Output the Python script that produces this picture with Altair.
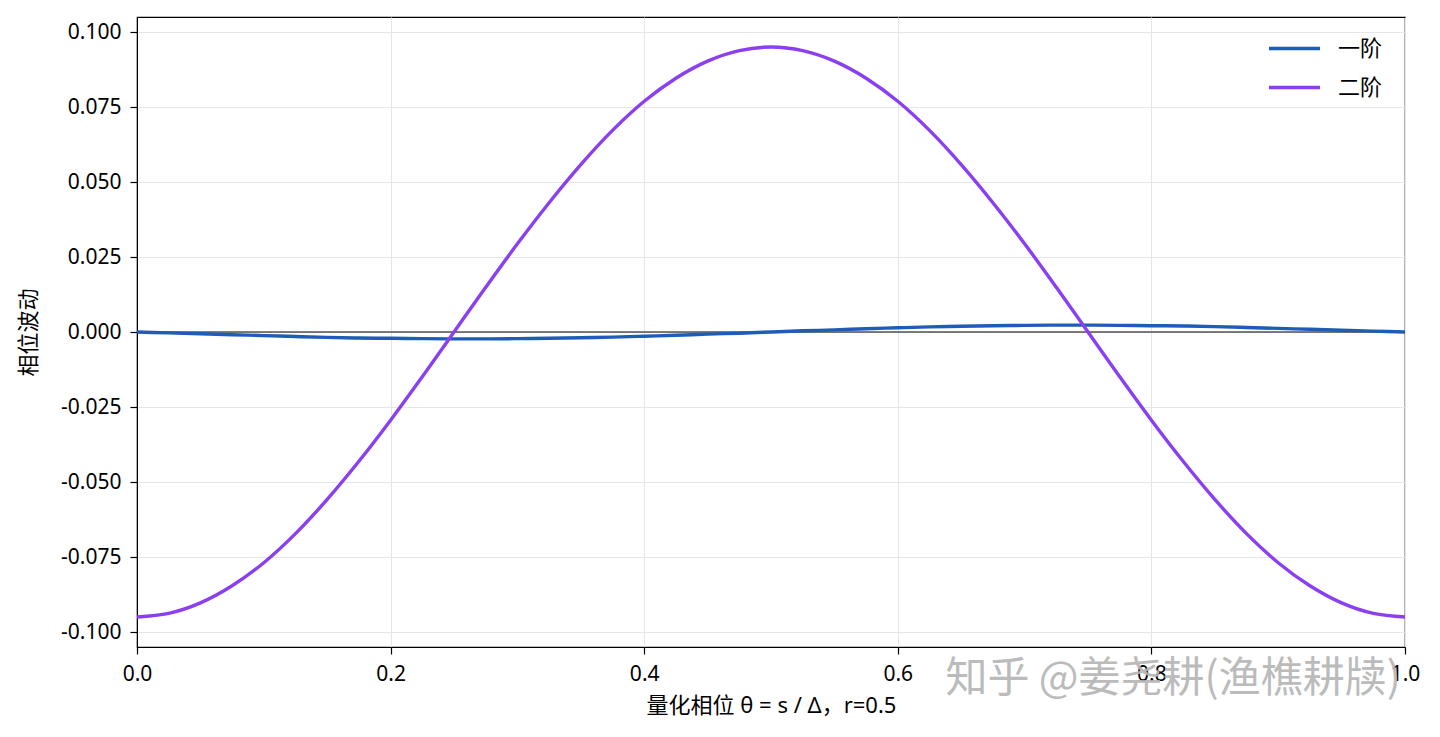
import altair as alt
import pandas as pd

theta = [0.000, 0.025, 0.050, 0.075, 0.100, 0.125, 0.150, 0.175, 0.200, 0.225,
         0.250, 0.275, 0.300, 0.325, 0.350, 0.375, 0.400, 0.425, 0.450, 0.475,
         0.500, 0.525, 0.550, 0.575, 0.600, 0.625, 0.650, 0.675, 0.700, 0.725,
         0.750, 0.775, 0.800, 0.825, 0.850, 0.875, 0.900, 0.925, 0.950, 0.975,
         1.000]

first_order = [0.0000, -0.0003, -0.0006, -0.0009, -0.0012, -0.0015, -0.0018, -0.0020, -0.0021, -0.0022,
               -0.0023, -0.0023, -0.0022, -0.0021, -0.0019, -0.0017, -0.0014, -0.0011, -0.0007, -0.0004,
               0.0000, 0.0004, 0.0007, 0.0011, 0.0014, 0.0017, 0.0019, 0.0021, 0.0022, 0.0023,
               0.0023, 0.0022, 0.0021, 0.0020, 0.0018, 0.0015, 0.0012, 0.0009, 0.0006, 0.0003,
               0.0000]

second_order = [-0.0950, -0.0938, -0.0903, -0.0846, -0.0769, -0.0672, -0.0558, -0.0431, -0.0294, -0.0149,
                0.0000, 0.0149, 0.0294, 0.0431, 0.0558, 0.0672, 0.0769, 0.0846, 0.0903, 0.0938,
                0.0950, 0.0938, 0.0903, 0.0846, 0.0769, 0.0672, 0.0558, 0.0431, 0.0294, 0.0149,
                0.0000, -0.0149, -0.0294, -0.0431, -0.0558, -0.0672, -0.0769, -0.0846, -0.0903, -0.0938,
                -0.0950]

series_names = ["一阶", "二阶"]
series_colors = ["#1f5cb8", "#8a3ff0"]
x_ticks = [0.0, 0.2, 0.4, 0.6, 0.8, 1.0]
y_ticks = [-0.1, -0.075, -0.05, -0.025, 0.0, 0.025, 0.05, 0.075, 0.1]
watermark = "知乎 @姜尧耕(渔樵耕牍)"

rows = []
for t, v in zip(theta, first_order):
    rows.append({"theta": t, "value": v, "series": series_names[0]})
for t, v in zip(theta, second_order):
    rows.append({"theta": t, "value": v, "series": series_names[1]})
df = pd.DataFrame(rows)

FONT = "'Noto Sans', 'Noto Sans CJK SC', sans-serif"

x_scale = alt.Scale(domain=[0, 1], nice=False, zero=False)
y_scale = alt.Scale(domain=[-0.105, 0.105], nice=False, zero=False)

neg_fmt = "datum.value < 0 ? '-' + format(abs(datum.value), '{f}') : format(datum.value, '{f}')"

lines = alt.Chart(df).mark_line(strokeWidth=3.4, interpolate="monotone", clip=True).encode(
    x=alt.X("theta:Q", scale=x_scale,
            axis=alt.Axis(title="量化相位 θ = s / Δ，r=0.5", values=x_ticks,
                          labelExpr=neg_fmt.format(f=".1f"))),
    y=alt.Y("value:Q", scale=y_scale,
            axis=alt.Axis(title="相位波动", values=y_ticks,
                          labelExpr=neg_fmt.format(f=".3f"))),
    color=alt.Color("series:N",
                    scale=alt.Scale(domain=series_names, range=series_colors),
                    legend=alt.Legend(title=None, orient="none", legendX=1130, legendY=4,
                                      symbolType="stroke", symbolSize=2601,
                                      symbolStrokeWidth=3.6, labelFontSize=22,
                                      labelFont=FONT, rowPadding=-10, labelOffset=16)),
    order="theta:Q",
)

zero_df = pd.DataFrame({"y": [0.0]})
zero_rule = alt.Chart(zero_df).mark_rule(color="#000000", strokeWidth=1.2).encode(
    y=alt.Y("y:Q", scale=y_scale)
)

wm = alt.Chart(pd.DataFrame({"t": [watermark]})).mark_text(
    align="right", baseline="middle", fontSize=42, font="'Noto Sans CJK SC'",
    color="#b4b4b4", opacity=0.9
).encode(x=alt.value(1264), y=alt.value(662), text="t:N")

chart = alt.layer(zero_rule, lines, wm).properties(
    width=1268, height=630,
    autosize=alt.AutoSizeParams(type="none"),
    padding={"left": 129, "top": 9, "right": 27, "bottom": 82},
).configure_view(
    stroke="#000000", strokeWidth=1.2
).configure_axis(
    labelFont=FONT, titleFont=FONT, labelFontSize=21, titleFontSize=22,
    labelColor="#000000", titleColor="#000000", titleFontWeight="normal",
    domainColor="#000000", tickColor="#000000", tickSize=7, tickWidth=1.2,
    gridColor="#e6e6e6", gridWidth=1, labelPadding=9, labelFlush=False,
).configure_axisX(
    titlePadding=11
).configure_axisY(
    titlePadding=20
)

chart.save("out.html", embed_options={"renderer": "svg", "actions": False})
